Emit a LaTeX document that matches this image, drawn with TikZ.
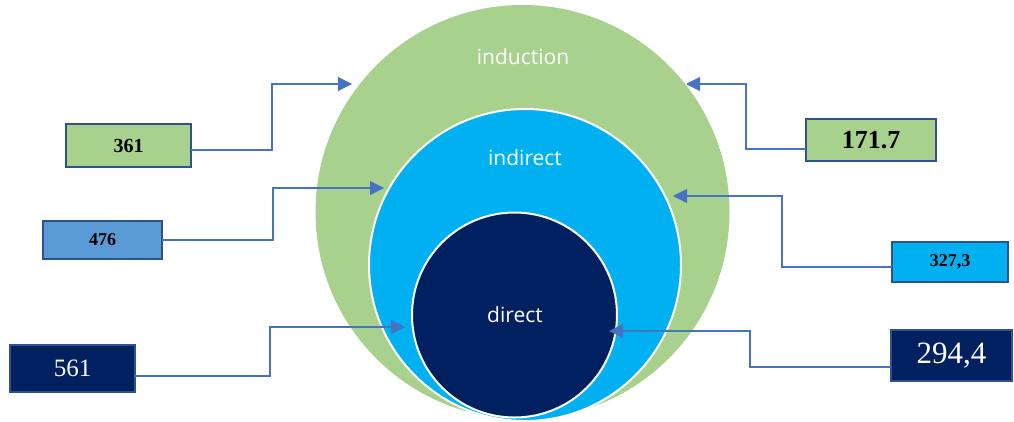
\documentclass[tikz,border=0pt]{standalone}
\usepackage{fontspec}
\setmainfont{Liberation Serif}
\newfontfamily\lblfont{Open Sans}
\usetikzlibrary{arrows.meta}
\definecolor{cgreen}{HTML}{A9D18E}
\definecolor{csky}{HTML}{00B0F0}
\definecolor{cnavy}{HTML}{002060}
\definecolor{cmid}{HTML}{5B9BD5}
\definecolor{cborder}{HTML}{2F528F}
\definecolor{carrow}{HTML}{4472C4}
\tikzset{
  ring/.style={circle, inner sep=0pt, outer sep=0pt},
  ringlabel/.style={text=white, font=\lblfont\fontsize{21}{25}\selectfont, inner sep=0pt},
  valbox/.style={rectangle, draw=cborder, line width=2pt, inner sep=0pt, outer sep=0pt},
  conn/.style={draw=carrow, line width=1.1pt, -{Triangle[length=14pt,width=14pt]}},
}
\begin{document}
\begin{tikzpicture}[x=1pt,y=-1pt]
\useasboundingbox (0,0) rectangle (1014,421);
% circles
\node[ring, fill=cgreen, minimum size=414pt] (cind) at (522.5,212) {};
\node[ring, fill=csky, draw=white, line width=2pt, minimum size=312pt] (cindir) at (525,265) {};
\node[ring, fill=cnavy, draw=white, line width=2pt, minimum size=205pt] (cdir) at (514.5,315) {};
\node[ringlabel] (linduction) at (523,57) {induction};
\node[ringlabel] (lindirect) at (525,158) {indirect};
\node[ringlabel] (ldirect) at (515,315) {direct};
% boxes
\node[valbox, fill=cgreen, minimum width=125pt, minimum height=43pt, font=\fontsize{20}{24}\selectfont\bfseries] (b361) at (128.5,145.5) {361};
\node[valbox, fill=cmid, minimum width=119pt, minimum height=38pt, font=\fontsize{18}{22}\selectfont\bfseries] (b476) at (102.5,240) {476};
\node[valbox, fill=cnavy, minimum width=125pt, minimum height=47pt, text=white, font=\fontsize{25}{30}\selectfont] (b561) at (72.5,368.5) {561};
\node[valbox, fill=cgreen, minimum width=130pt, minimum height=42pt, font=\fontsize{26}{30}\selectfont\bfseries] (b1717) at (871,140) {171.7};
\node[valbox, fill=csky, minimum width=116pt, minimum height=40pt, font=\fontsize{18}{22}\selectfont\bfseries] (b3273) at (950,262) {327,3};
\node[valbox, fill=cnavy, minimum width=121pt, minimum height=51pt, text=white, font=\fontsize{31}{36}\selectfont] (b2944) at (951.5,355.5) {294,4};
% connector corner and tip coordinates
\coordinate (k361) at (272,84);   \coordinate (t361) at (352,84);
\coordinate (k476) at (273,188);  \coordinate (t476) at (384,188);
\coordinate (k561) at (270,327);  \coordinate (t561) at (405,327);
\coordinate (k1717) at (746,84);  \coordinate (t1717) at (686,84);
\coordinate (k3273) at (782,196); \coordinate (t3273) at (673,196);
\coordinate (k2944) at (750,331); \coordinate (t2944) at (609,331);
% connectors
\draw[conn] ([yshift=-4.5pt]b361.east) -| (k361) -- (t361);
\draw[conn] (b476.east) -| (k476) -- (t476);
\draw[conn] ([yshift=-7.5pt]b561.east) -| (k561) -- (t561);
\draw[conn] ([yshift=-9pt]b1717.west) -| (k1717) -- (t1717);
\draw[conn] ([yshift=-5pt]b3273.west) -| (k3273) -- (t3273);
\draw[conn] ([yshift=-11.5pt]b2944.west) -| (k2944) -- (t2944);
\end{tikzpicture}
\end{document}
